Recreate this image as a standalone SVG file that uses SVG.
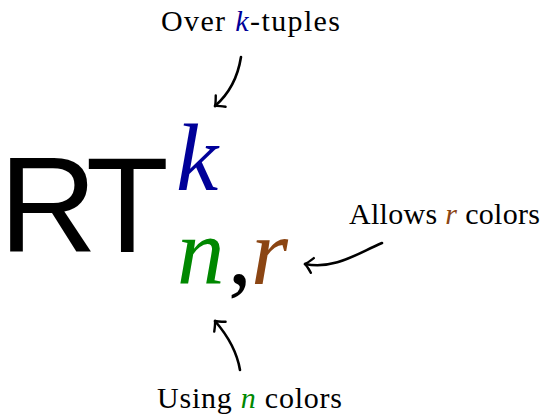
<svg xmlns="http://www.w3.org/2000/svg" width="546" height="416" viewBox="0 0 546 416">
<defs>
<style>
.lbl{font-family:"Liberation Serif","Times New Roman",serif;font-size:30px;fill:#000}
.ser{font-family:"Liberation Serif","Times New Roman",serif}
.it{font-style:italic}
.blue{fill:#000099}
.green{fill:#008800}
.brown{fill:#8b4513}
.arr{fill:none;stroke:#000;stroke-width:2.6;stroke-linecap:round;marker-end:url(#to)}
</style>
<marker id="to" markerUnits="userSpaceOnUse" markerWidth="20" markerHeight="20" viewBox="-10 -10 20 20" refX="0" refY="0" orient="auto" overflow="visible">
<path d="M-7.5,-7.5 Q-2,-1.2 0,0 Q-2,1.2 -7.5,7.5" fill="none" stroke="#000" stroke-width="2.4" stroke-linecap="round" stroke-linejoin="round"/>
</marker>
</defs>
<g id="formula">
<text font-family="Liberation Sans, Arial, sans-serif" font-size="136" fill="#000"><tspan x="-1" y="252" letter-spacing="-9">RT</tspan><tspan class="ser it blue" x="176" y="190" font-size="95" letter-spacing="0">k</tspan><tspan class="ser it green" x="177" y="284" font-size="95">n</tspan><tspan class="ser" x="228" y="284" font-size="95">,</tspan><tspan class="ser it brown" x="251" y="284" font-size="95">r</tspan></text>
</g>
<g id="label-top">
<text class="lbl" x="161" y="31" textLength="179" lengthAdjust="spacing">Over <tspan class="it blue">k</tspan>-tuples</text>
</g>
<g id="label-right">
<text class="lbl" x="349" y="224" textLength="191" lengthAdjust="spacing">Allows <tspan class="it brown">r</tspan> colors</text>
</g>
<g id="label-bottom">
<text class="lbl" x="157" y="408" textLength="185" lengthAdjust="spacing">Using <tspan class="it green">n</tspan> colors</text>
</g>
<g id="connectors">
<path class="arr" d="M241,57 C238,76 230,93 215,106"/>
<path class="arr" d="M382,243 C358,253 335,270 305,264"/>
<path class="arr" d="M240,370 C237,352 228,336 215,321"/>
</g>
</svg>
